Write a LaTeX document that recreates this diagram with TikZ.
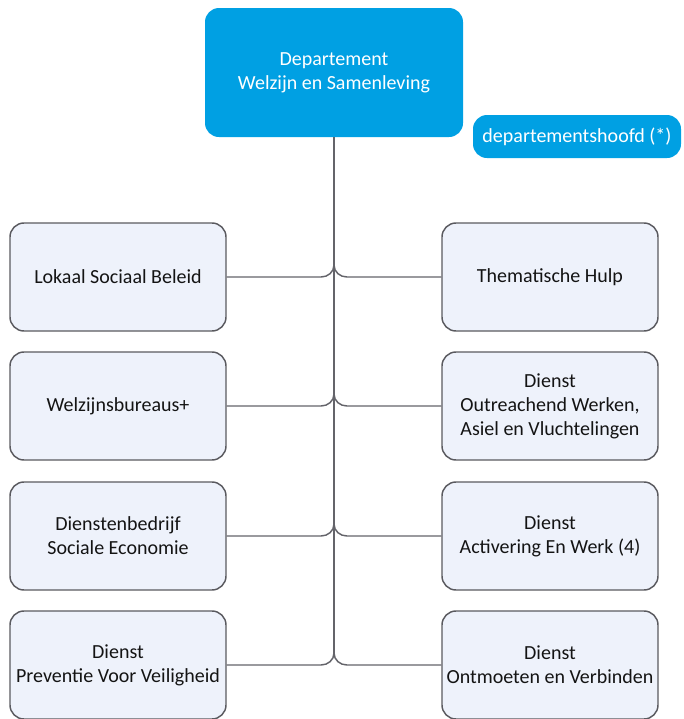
\documentclass[tikz,border=0pt]{standalone}
\usepackage{fontspec}
\setmainfont{Carlito}
\usetikzlibrary{calc}
\definecolor{deptblue}{RGB}{0,160,227}
\definecolor{boxfill}{RGB}{238,242,251}
\definecolor{boxline}{RGB}{90,90,95}
\definecolor{conn}{RGB}{100,100,106}
\begin{document}
\begin{tikzpicture}[x=0.75pt,y=-0.75pt,
  bluebox/.style={rectangle,rounded corners=10.5pt,fill=deptblue,draw=none,text=white,align=center,font=\fontsize{15}{18}\selectfont,inner sep=0pt},
  unitbox/.style={rectangle,rounded corners=10.5pt,fill=boxfill,draw=boxline,line width=1.1pt,text={rgb,255:red,20;green,20;blue,20},align=center,font=\fontsize{15}{18}\selectfont,minimum width=162pt,minimum height=81pt,inner sep=0pt},
  trunk/.style={draw=conn,line width=1.5pt},
  branch/.style={draw=conn,line width=1.1pt}]
\useasboundingbox (0,0) rectangle (684,719);
\node[bluebox,minimum width=193.5pt,minimum height=96.75pt] (top) at (334,72.5) {Departement\\Welzijn en Samenleving};
\node[bluebox,minimum width=156pt,minimum height=32.25pt] (head) at (577,136.5) {departementshoofd (*)};
\node[unitbox] (l1) at (118,277) {Lokaal Sociaal Beleid};
\node[unitbox] (l2) at (118,406) {Welzijnsbureaus+};
\node[unitbox] (l3) at (118,536) {Dienstenbedrijf\\Sociale Economie};
\node[unitbox] (l4) at (118,665) {Dienst\\Preventie Voor Veiligheid};
\node[unitbox] (r1) at (550,277) {Thematische Hulp};
\node[unitbox] (r2) at (550,406) {Dienst\\Outreachend Werken,\\Asiel en Vluchtelingen};
\node[unitbox] (r3) at (550,536) {Dienst\\Activering En Werk (4)};
\node[unitbox] (r4) at (550,665) {Dienst\\Ontmoeten en Verbinden};
\coordinate (j1) at (334,265);
\coordinate (j2) at (334,394);
\coordinate (j3) at (334,524);
\coordinate (j4) at (334,653);
\draw[trunk] (top.south) -- (j4);
\foreach \i in {1,2,3,4}{
  \draw[branch] (l\i.east) -- ($(j\i)+(-13,12)$) .. controls +(7,0) and +(0,7) .. (j\i);
  \draw[branch] (r\i.west) -- ($(j\i)+(13,12)$) .. controls +(-7,0) and +(0,7) .. (j\i);
}
\end{tikzpicture}
\end{document}
